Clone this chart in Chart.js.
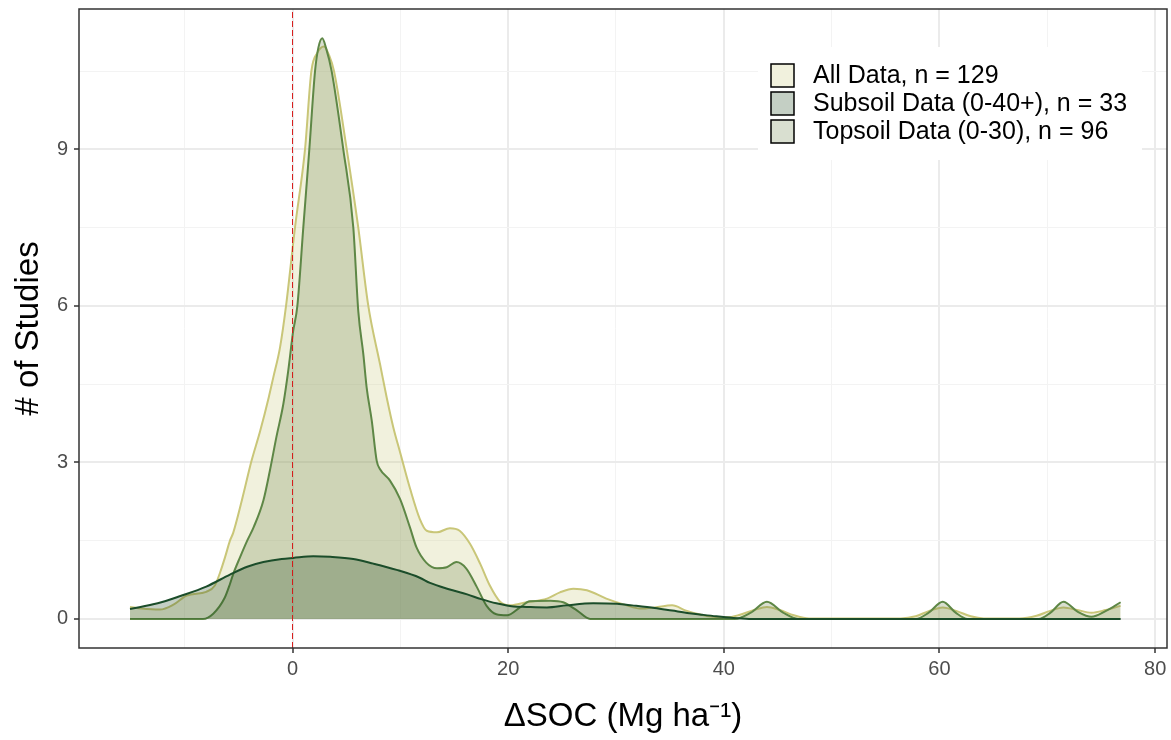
<!DOCTYPE html>
<html><head><meta charset="utf-8">
<script src="https://cdn.jsdelivr.net/npm/chart.js@4.4.1/dist/chart.umd.min.js"></script>
<style>html,body{margin:0;padding:0;background:#fff}#wrap{width:1171px;height:740px;position:relative}</style>
</head><body><div id="wrap"><canvas id="c"></canvas></div>
<script>
// ---- data ----
const seriesNames = ['All Data, n = 129', 'Subsoil Data (0-40+), n = 33', 'Topsoil Data (0-30), n = 96'];

const allX = [-15.07,-14,-12.3,-11,-9.8,-8.0,-7.2,-6.7,-6.26,-5.8,-5.5,-4.7,-3.8,-3.0,-2.2,-1.78,-1.16,-0.6,0.23,1.16,1.75,2.3,2.92,3.4,3.85,5.03,6.1,7.03,8.12,8.74,9.35,9.97,10.9,11.8,12.45,13.4,14.6,15.5,16.46,17.4,18.3,19.25,20.2,21.7,23.6,24.8,26.05,27.3,29.1,31.0,32.2,33.6,35.2,36.5,37.7,39.0,40.3,41.5,42.8,44.0,45.2,46.5,47.9,56.4,57.8,59.0,60.3,61.6,62.9,64.1,67.4,69.0,70.2,71.5,72.8,74.1,75.4,76.8];
const allY = [0.23,0.2,0.18,0.28,0.45,0.52,0.64,0.9,1.18,1.5,1.65,2.27,3.03,3.6,4.25,4.63,5.2,6.0,7.5,9.0,10.5,10.85,10.97,10.8,10.5,9.0,7.5,6.0,4.88,4.24,3.67,3.2,2.5,1.92,1.69,1.66,1.74,1.69,1.44,1.06,0.64,0.33,0.26,0.32,0.39,0.51,0.58,0.55,0.39,0.26,0.2,0.22,0.26,0.16,0.09,0.04,0.03,0.08,0.17,0.23,0.17,0.07,0.01,0.01,0.05,0.15,0.22,0.15,0.05,0.01,0.01,0.06,0.15,0.22,0.17,0.12,0.17,0.25];

const subX = [-15.07,-12.5,-10.4,-8.0,-5.8,-4.2,-2.7,-1.0,0.07,1.93,3.5,5.64,7.5,9.66,11.8,12.75,14.5,16.2,17.5,18.9,20.5,21.7,23.6,25.4,27.9,30.1,31.5,33.6,35.2,36.8,38.0,39.3,40.9,42.6,76.8];
const subY = [0.19,0.3,0.44,0.62,0.85,1.0,1.09,1.15,1.17,1.2,1.19,1.15,1.06,0.94,0.79,0.69,0.57,0.47,0.38,0.3,0.24,0.23,0.22,0.26,0.3,0.29,0.26,0.21,0.16,0.11,0.08,0.05,0.02,0,0];

const topX = [-15.07,-8.3,-7.35,-6.3,-5.8,-5.5,-4.87,-4.2,-3.6,-2.7,-2.1,-1.5,-0.85,-0.4,0.05,0.45,1.0,1.56,2.09,2.4,2.76,3.1,3.63,4.71,5.64,6.1,6.57,6.88,7.35,7.81,8.12,9.04,9.97,10.9,11.5,12.4,13.4,14.3,15.2,16.1,17.1,18.0,18.9,19.9,21.1,22.0,23.9,25.1,26.4,27.6,41.0,42.5,44.0,45.5,46.9,57.8,59.0,60.3,61.5,62.6,69.2,70.3,71.5,72.8,74.1,75.4,76.8];
const topY = [0,0,0.1,0.4,0.67,0.86,1.18,1.5,1.76,2.27,2.84,3.48,4.12,4.75,5.5,6.0,7.5,9.0,10.5,10.95,11.13,10.95,10.5,9.0,7.5,5.9,5.07,4.43,3.8,3.03,2.87,2.65,2.3,1.75,1.37,1.08,0.97,0.99,1.09,0.97,0.61,0.25,0.09,0.07,0.22,0.34,0.35,0.32,0.16,0,0,0.12,0.33,0.12,0,0,0.12,0.33,0.12,0,0,0.12,0.33,0.14,0.04,0.15,0.32];

const refLineX = [0];
const xMajorTicks = [0,20,40,60,80];
const xMinorTicks = [-10,10,30,50,70];
const yMajorTicks = [0,3,6,9];
const yMinorTicks = [1.5,4.5,7.5,10.5];
const xLimits = [-19.8, 81.1];
const yLimits = [-0.557, 11.69];
const xTitle = 'ΔSOC (Mg ha⁻¹)';
const yTitle = '# of Studies';

// ---- styles ----
const FONT = '"Liberation Sans", Arial, sans-serif';
const lineCols = { all: 'rgb(201,198,120)', top: 'rgb(94,135,70)', sub: 'rgb(27,77,42)' };
const fillCols = { all: 'rgba(200,200,120,0.25)', top: 'rgba(105,129,69,0.25)', sub: 'rgba(19,65,19,0.25)' };
const legendFills = [fillCols.all, fillCols.sub, fillCols.top];

const pts = (xs, ys) => xs.map((x, i) => ({ x, y: ys[i] }));
const xMaj = new Set(xMajorTicks), yMaj = new Set(yMajorTicks);

const ds = (label, xs, ys, key) => ({
  type: 'line', label, data: pts(xs, ys),
  borderColor: lineCols[key], backgroundColor: fillCols[key],
  borderWidth: 2, pointRadius: 0, fill: 'origin',
  cubicInterpolationMode: 'monotone'
});

const framePlugin = {
  id: 'frame',
  afterDraw(chart) {
    const { ctx, chartArea: a } = chart;
    ctx.save();
    ctx.strokeStyle = '#333333'; ctx.lineWidth = 1.5;
    ctx.strokeRect(a.left, a.top, a.right - a.left, a.bottom - a.top);
    // legend
    const bx = a.right - 409, by = a.top + 38, bw = 384, bh = 113;
    ctx.fillStyle = '#ffffff'; ctx.fillRect(bx, by, bw, bh);
    ctx.font = '25px ' + FONT; ctx.textBaseline = 'middle'; ctx.textAlign = 'left';
    for (let i = 0; i < seriesNames.length; i++) {
      const kx = bx + 13, ky = by + 17 + i * 28, ks = 23;
      ctx.fillStyle = '#ffffff'; ctx.fillRect(kx, ky, ks, ks);
      ctx.fillStyle = legendFills[i]; ctx.fillRect(kx, ky, ks, ks);
      ctx.strokeStyle = '#000000'; ctx.lineWidth = 1.5; ctx.strokeRect(kx, ky, ks, ks);
      ctx.fillStyle = '#000000';
      ctx.fillText(seriesNames[i], bx + 55, ky + ks / 2 + 1);
    }
    ctx.restore();
  }
};

new Chart(document.getElementById('c'), {
  type: 'line',
  data: {
    datasets: [
      { type: 'line', label: 'ref', data: [{ x: refLineX[0], y: yLimits[0] }, { x: refLineX[0], y: yLimits[1] }],
        borderColor: 'rgba(215,20,20,0.95)', borderWidth: 1, borderDash: [6, 3], pointRadius: 0, fill: false },
      ds(seriesNames[1], subX, subY, 'sub'),
      ds(seriesNames[2], topX, topY, 'top'),
      ds(seriesNames[0], allX, allY, 'all')
    ]
  },
  options: {
    responsive: true, maintainAspectRatio: false, animation: false,
    layout: { padding: { top: 9, right: 4, left: 0, bottom: 0 } },
    plugins: { legend: { display: false }, tooltip: { enabled: false } },
    scales: {
      x: {
        type: 'linear', min: xLimits[0], max: xLimits[1],
        afterBuildTicks: (s) => { s.ticks = [...xMinorTicks, ...xMajorTicks].sort((a, b) => a - b).map(v => ({ value: v })); },
        afterFit: (s) => { s.height = 92; s.paddingLeft = 0; s.paddingRight = 0; },
        ticks: { autoSkip: false, maxRotation: 0, padding: 4, color: '#4d4d4d', font: { family: FONT, size: 20 },
          callback: (v) => xMaj.has(v) ? String(v) : '' },
        grid: { color: (c) => xMaj.has(c.tick && c.tick.value) ? '#ebebeb' : '#f3f3f3',
          lineWidth: (c) => xMaj.has(c.tick && c.tick.value) ? 2 : 1,
          tickColor: (c) => xMaj.has(c.tick && c.tick.value) ? '#333333' : 'rgba(0,0,0,0)',
          tickLength: 5, tickWidth: 1.5 },
        border: { display: false },
        title: { display: true, text: xTitle, color: '#000', font: { family: FONT, size: 33, lineHeight: 1.2 }, padding: { top: 0, bottom: 3 } }
      },
      y: {
        type: 'linear', min: yLimits[0], max: yLimits[1],
        afterBuildTicks: (s) => { s.ticks = [...yMinorTicks, ...yMajorTicks].sort((a, b) => a - b).map(v => ({ value: v })); },
        afterFit: (s) => { s.width = 79; s.paddingTop = 0; s.paddingBottom = 0; },
        ticks: { autoSkip: false, padding: 6, color: '#4d4d4d', font: { family: FONT, size: 20 },
          callback: (v) => yMaj.has(v) ? String(v) : '' },
        grid: { color: (c) => yMaj.has(c.tick && c.tick.value) ? '#ebebeb' : '#f3f3f3',
          lineWidth: (c) => yMaj.has(c.tick && c.tick.value) ? 2 : 1,
          tickColor: (c) => yMaj.has(c.tick && c.tick.value) ? '#333333' : 'rgba(0,0,0,0)',
          tickLength: 5, tickWidth: 1.5 },
        border: { display: false },
        title: { display: true, text: yTitle, color: '#000', font: { family: FONT, size: 33, lineHeight: 1.2 }, padding: { top: 9, bottom: 0 } }
      }
    }
  },
  plugins: [framePlugin]
});
</script></body></html>
